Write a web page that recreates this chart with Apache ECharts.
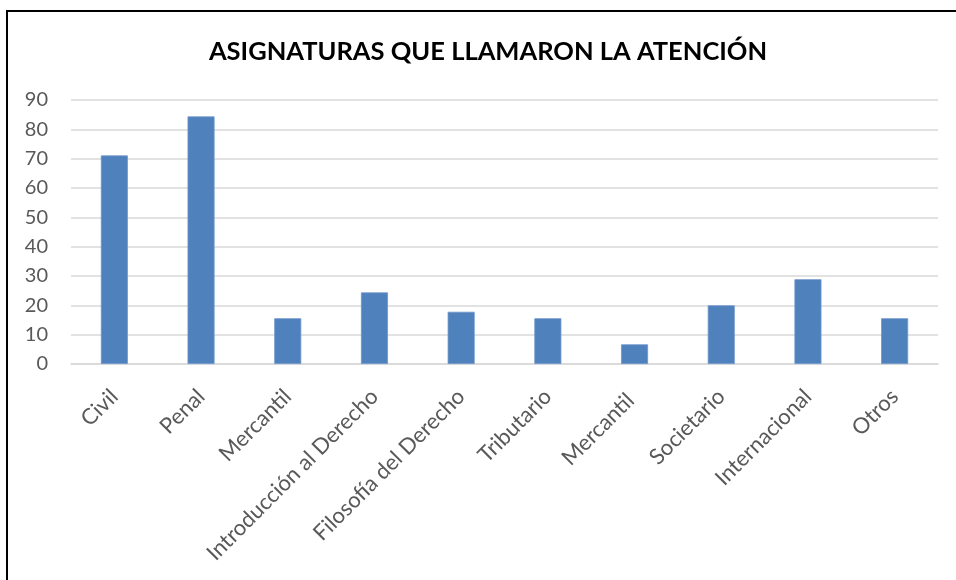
<!DOCTYPE html>
<html>
<head>
<meta charset="utf-8">
<script src="https://cdn.jsdelivr.net/npm/echarts@6/dist/echarts.min.js"></script>
<style>
html,body{margin:0;padding:0;background:#fff;}
#chart{width:956px;height:580px;}
</style>
</head>
<body>
<div id="chart"></div>
<script>
const titleText = 'ASIGNATURAS QUE LLAMARON LA ATENCIÓN';
const categories = ['Civil','Penal','Mercantil','Introducción al Derecho','Filosofía del Derecho','Tributario','Mercantil ','Societario','Internacional','Otros'];
const values = [71.1, 84.4, 15.6, 24.4, 17.8, 15.6, 6.7, 20.0, 28.9, 15.6];
const yMin = 0, yMax = 90, yStep = 10;

const chart = echarts.init(document.getElementById('chart'), null, {renderer:'canvas'});
chart.setOption({
  animation:false,
  backgroundColor:'#ffffff',
  textStyle:{fontFamily:'Lato'},
  graphic:[{
    type:'rect',
    shape:{x:7,y:11,width:1000,height:700},
    style:{fill:null,stroke:'#000',lineWidth:2},
    silent:true
  }],
  title:{
    text:titleText,
    left:483, top:34, textAlign:'center',
    textStyle:{fontFamily:'Lato',fontWeight:'bold',fontSize:25.5,color:'#000'}
  },
  grid:{left:71,right:18,top:100,bottom:216,containLabel:false},
  xAxis:{
    type:'category',
    data:categories,
    axisLine:{show:true,lineStyle:{color:'#d9d9d9',width:1.5}},
    axisTick:{show:false},
    axisLabel:{rotate:45,interval:0,margin:29,fontSize:22,color:'#595959',fontFamily:'Lato'}
  },
  yAxis:{
    type:'value',
    min:yMin,max:yMax,interval:yStep,
    axisLine:{show:false},
    axisTick:{show:false},
    splitLine:{lineStyle:{color:'#d9d9d9',width:1.5}},
    axisLabel:{margin:23,fontSize:20,color:'#595959',fontFamily:'Lato'}
  },
  series:[{
    type:'bar',
    data:values,
    barWidth:27,
    itemStyle:{color:'#4f81bd',borderColor:'#6d95c9',borderWidth:0.8}
  }]
});
</script>
</body>
</html>
